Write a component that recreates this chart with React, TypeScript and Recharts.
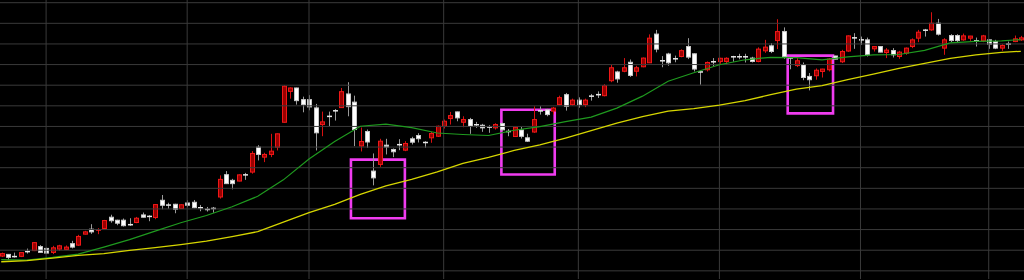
import { ComposedChart, Bar, Line, XAxis, YAxis, ReferenceArea, ReferenceLine } from "recharts";

// one candle per trading day, values in chart price units
const opens = [
  23, 24.7, 23, 22.7, 28, 28.5, 32.5, 30.7, 26.7, 30, 29.7, 35.5, 34, 45, 50, 48.3, 50.7, 62, 59, 59,
  55, 56.7, 64.3, 63.3, 61.7, 79, 74.7, 75, 70.7, 76.3, 77, 72, 70.3, 71.3, 82.3, 104.7, 99, 98.3, 105, 107.3,
  132.3, 122.3, 125, 132.3, 157.3, 188.3, 191.7, 180, 180, 171.7, 155, 163.7, 169.3, 172, 185.7, 177.5, 133.5, 148, 108.3, 115,
  134.3, 130, 135.3, 129.3, 140.7, 144, 137.5, 141.7, 143.3, 153.3, 161, 167.7, 157.3, 160, 155.3, 154.3, 153, 151.7, 156, 148.5,
  143, 149.5, 141.7, 147.5, 169.2, 169.7, 168.5, 175, 185, 175, 179.5, 175, 184, 185.5, 184, 199, 207.8, 208.5, 217.5, 208.5,
  213, 217, 245.8, 219.5, 225.8, 221.5, 223.3, 233.3, 226, 208.3, 210, 218.5, 218.3, 218.3, 223.5, 223.5, 223.5, 221.7, 218.3, 229,
  234, 239.3, 248.3, 222.3, 214.2, 215, 203.3, 204, 208.3, 210, 223.8, 218, 228.8, 242.5, 240.5, 240, 231, 233.3, 227.3, 229.3,
  223.3, 226.7, 233.3, 241.7, 250.2, 250, 256.7, 231.7, 244.3, 244.3, 240, 241.7, 239.5, 239, 240, 238.3, 231.7, 236.3, 238.3, 240,
];
const highs = [
  26.5, 25, 26.5, 27, 30.5, 37, 34, 31.5, 33.3, 34.3, 33.7, 38.3, 44.3, 48.3, 55, 51, 59.3, 64.5, 59.5, 60.7,
  61, 62.3, 66.7, 64, 75, 84.3, 76.5, 75.5, 75, 79, 79.3, 74.3, 72.3, 72.3, 104, 108.3, 100.5, 105, 106.5, 128.3,
  134.3, 126.7, 145.7, 146, 194.5, 192.3, 192, 183, 184.5, 175.7, 168, 168, 170.5, 191.7, 197.5, 184, 152, 150, 126, 140.7,
  140.7, 131, 140.3, 138.3, 142.7, 146.3, 138.3, 147.7, 154, 160, 167.7, 168, 163.3, 161.7, 157.7, 155.7, 154.3, 156.3, 157, 150.5,
  153, 152.5, 145.8, 173.3, 173.3, 170.7, 172.7, 184, 186.7, 181, 182.3, 181, 185.7, 188.3, 195.5, 215, 209, 221.7, 220.3, 214,
  222.3, 245.5, 250, 223.7, 227, 224.2, 230.5, 241.7, 226.5, 208.5, 218.3, 221.7, 222, 222.5, 224, 226, 226, 223, 232.5, 240,
  236.7, 260.7, 252.5, 222.7, 221.7, 217.3, 206.7, 211.3, 211, 221.7, 224, 230, 244.5, 246.7, 243.3, 242.3, 233.5, 233.5, 231.7, 231.7,
  229, 232.3, 241.5, 250, 251, 267.7, 261, 241.7, 245.7, 245.7, 246.3, 244, 242.3, 245, 240.5, 240, 235.7, 238.3, 244.3, 244,
];
const lows = [
  22, 19, 21.5, 22, 25.5, 28, 26.5, 25.5, 25, 28.3, 29, 30.7, 33.3, 44.7, 45.3, 45, 50, 56.5, 54, 52.7,
  53.3, 56, 61.7, 58, 60, 70, 70.5, 66, 70.5, 72, 71, 68, 67.7, 66.5, 80.7, 95.3, 90, 98, 99.5, 105.7,
  119, 117.3, 122.3, 129, 157, 181, 175, 167.3, 169.3, 129, 143.3, 153, 159, 171.7, 163.3, 133.3, 128, 131.7, 94, 112.5,
  125, 122.3, 129.3, 128.3, 135, 137, 131.7, 136.7, 142.5, 151, 155, 158.3, 152.3, 145.7, 151.7, 147.7, 146.7, 150, 149, 143.3,
  142.7, 141, 137.5, 146.7, 165, 163.3, 165, 174.3, 169, 174, 172, 172.5, 179, 181.7, 183.3, 197.5, 197, 207.5, 202.8, 203.3,
  212.5, 216.7, 227.5, 212.5, 214, 217.5, 222.5, 220.7, 208.3, 195, 208.3, 213.3, 216, 215, 218, 220.5, 217.3, 217.3, 217.5, 227,
  226.7, 230.7, 221, 210.5, 212.7, 199.5, 189.3, 200, 202.2, 208.3, 220.5, 216.7, 228, 231, 235, 223.3, 228.3, 227.5, 221.7, 222.3,
  221, 225, 231.7, 237.7, 243.3, 249, 244.3, 225, 237.7, 237.7, 239, 239, 233.3, 237.7, 231, 230.7, 229, 231, 237.7, 239,
];
const closes = [
  25.5, 21.7, 22.5, 26.5, 27.2, 36.5, 26.7, 26, 31.3, 33.3, 32, 32, 42.7, 47.3, 47.3, 49.7, 58.7, 58.5, 56, 53.5,
  54.5, 61, 62, 62.7, 74.7, 74, 74, 70, 74.5, 74, 71.5, 71.3, 69.8, 70.7, 100, 95.7, 95.7, 104.5, 104.4, 126,
  125, 125, 128.3, 145.7, 193.5, 191.7, 179, 175, 172.7, 146.7, 157.7, 163, 168.7, 188, 173, 150, 138, 137.5, 101.5, 138.3,
  132.5, 127.7, 134.7, 136, 137.3, 140.8, 137, 146, 153.3, 158.3, 164, 161.7, 160, 153.3, 154.7, 151.7, 152.4, 155, 149.7, 148,
  152.3, 143.2, 138.3, 160, 168, 165, 171.5, 182, 173.3, 179.5, 175, 179.5, 183.3, 184.8, 194, 212, 200.8, 212, 204.3, 212,
  221.7, 241.7, 230.7, 218.8, 217, 221, 229.2, 222.7, 210.7, 207.7, 217.3, 218, 221.5, 221.5, 223, 223, 223, 218.3, 230.7, 232.7,
  228.3, 248.3, 223, 221.5, 219, 202.2, 200, 209.5, 210.7, 220.7, 220.7, 228.3, 244, 241.5, 239.7, 225, 233.3, 227.7, 229.7, 225,
  227.7, 231.7, 240, 247.7, 249.5, 256.7, 245.7, 240, 239.3, 239.3, 244, 243.8, 238.8, 244, 235.7, 231.7, 234.3, 235.7, 241, 242,
];

// moving averages every fourth session
const maFastPoints = [
  [0, 19.5], [4, 19], [8, 21.7], [12, 25], [16, 32], [20, 39.5], [24, 48], [28, 56.5], [32, 63.7], [36, 72.5],
  [40, 83], [44, 99.5], [48, 120.5], [52, 138], [56, 153.3], [60, 155.5], [64, 152], [68, 146.5], [72, 145], [76, 144],
  [80, 149.3], [84, 153], [88, 158], [92, 162.5], [96, 171.5], [100, 183.5], [104, 198.5], [108, 207], [112, 215], [116, 220],
  [120, 222.5], [124, 222.2], [128, 220], [132, 223], [136, 225], [140, 225.3], [144, 229.5], [148, 237], [152, 238.5], [156, 239], [159, 240.3],
];
const maSlowPoints = [
  [0, 17.3], [4, 18.5], [8, 21], [12, 23.7], [16, 25.5], [20, 28.7], [24, 31.5], [28, 34.5], [32, 38], [36, 42.5],
  [40, 47.5], [44, 57], [48, 66.5], [52, 75], [56, 85], [60, 93.5], [64, 100], [68, 107.5], [72, 116], [76, 122],
  [80, 129], [84, 134.5], [88, 141.5], [92, 148.8], [96, 156.5], [100, 163], [104, 168.5], [108, 171], [112, 174.5], [116, 179],
  [120, 185], [124, 190.5], [128, 194], [132, 200.2], [136, 205.7], [140, 211.4], [144, 216.5], [148, 221.5], [152, 225], [156, 227.5], [159, 228.5],
];

const priceTicks = [8.2, 28.9, 49.6, 70.3, 91, 111.7, 132.4, 153.1, 173.8, 194.5, 215.2, 235.9, 256.6, 277.3];
const monthStarts = [7, 29, 48, 69, 90, 112, 134, 154];

// highlighted zones: [fromSession, toSession, lowPrice, highPrice]
const zones = [
  [54.54, 62.95, 61, 119.8],
  [78.0, 86.32, 104.8, 169.8],
  [122.65, 129.72, 166.2, 224.2],
];

const fast = new Map(maFastPoints.map(([i, v]) => [i, v]));
const slow = new Map(maSlowPoints.map(([i, v]) => [i, v]));

const data = opens.map((open, i) => ({
  idx: i,
  open,
  high: highs[i],
  low: lows[i],
  close: closes[i],
  range: [lows[i], highs[i]],
  ma20: fast.get(i) ?? null,
  ma60: slow.get(i) ?? null,
}));

const GRID = "#3a3a3a";

const Candle = (props: any) => {
  const { x, y, width, height, payload } = props;
  if (x == null || y == null) return null;
  const { open, close, high, low } = payload;
  const k = height / (high - low || 1);
  const yo = y + (high - open) * k;
  const yc = y + (high - close) * k;
  const c = Math.round(x + width / 2);
  const up = close > open;
  const flat = Math.abs(yo - yc) < 1.6;
  const top = Math.min(yo, yc);
  const h = Math.max(Math.abs(yo - yc), 1);
  const wick = up ? "#d81010" : "#9a9a9a";
  return (
    <g>
      <line x1={c + 0.5} x2={c + 0.5} y1={y} y2={y + height} stroke={wick} strokeWidth={1} />
      {flat ? (
        <line x1={c - 2} x2={c + 3} y1={top + 0.5} y2={top + 0.5} stroke={up ? "#ff2020" : "#e8e8e8"} strokeWidth={1.5} />
      ) : (
        <rect
          x={c - 1.5}
          y={top}
          width={4}
          height={h}
          fill={up ? "#9a0000" : "#ffffff"}
          stroke={up ? "#f01818" : "#c8c8c8"}
          strokeWidth={1}
        />
      )}
    </g>
  );
};

export default function App() {
  return (
    <div style={{ position: "fixed", left: 0, top: 0, width: 1024, height: 280, background: "#000", overflow: "hidden" }}>
      <div style={{ position: "absolute", left: -3, top: 0 }}>
        <ComposedChart width={1027} height={280} data={data} margin={{ top: 0, right: 0, bottom: 0, left: 0 }} barGap={0}>
          <XAxis dataKey="idx" type="category" height={1} tick={false} axisLine={false} tickLine={false} />
          <XAxis xAxisId="num" dataKey="idx" type="number" domain={[-0.5, 159.5]} hide />
          <YAxis type="number" domain={[0, 280]} width={1} tick={false} axisLine={false} tickLine={false} />
          {priceTicks.map((p) => (
            <ReferenceLine key={`h${p}`} y={p} stroke={GRID} strokeWidth={1} ifOverflow="visible" />
          ))}
          {monthStarts.map((m) => (
            <ReferenceLine key={`v${m}`} xAxisId="num" x={m} stroke={GRID} strokeWidth={1} ifOverflow="visible" />
          ))}
          <Bar dataKey="range" barSize={5} shape={<Candle />} isAnimationActive={false} />
          <Line dataKey="ma20" stroke="#1f9a1f" strokeWidth={1.2} dot={false} activeDot={false} connectNulls isAnimationActive={false} />
          <Line dataKey="ma60" stroke="#d6d600" strokeWidth={1.3} dot={false} activeDot={false} connectNulls isAnimationActive={false} />
          {zones.map(([a, b, lo, hi], n) => (
            <ReferenceArea
              key={n}
              xAxisId="num"
              x1={a}
              x2={b}
              y1={lo}
              y2={hi}
              fill="none"
              fillOpacity={0}
              stroke="#f03cf0"
              strokeWidth={2.6}
              ifOverflow="visible"
            />
          ))}
        </ComposedChart>
      </div>
    </div>
  );
}
